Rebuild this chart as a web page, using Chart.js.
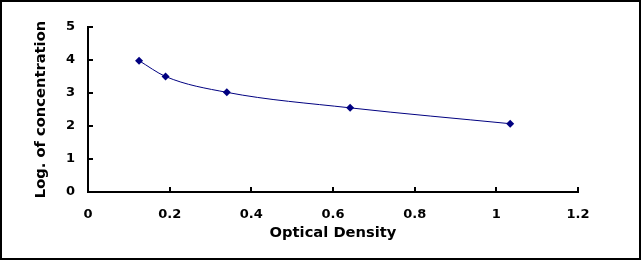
<!DOCTYPE html>
<html>
<head>
<meta charset="utf-8">
<script src="https://cdn.jsdelivr.net/npm/chart.js@4"></script>
<style>
  html, body { margin: 0; padding: 0; background: #fff; }
  #wrap { position: relative; width: 642px; height: 262px; }
  #frame { position: absolute; left: 0; top: 0; width: 641px; height: 260px; box-sizing: border-box; border: 2px solid #000; }
  #chart { position: absolute; left: 0; top: 0; }
</style>
</head>
<body>
<div id="wrap">
  <div id="frame"></div>
  <canvas id="chart" width="642" height="262"></canvas>
</div>
<script>
// 표준곡선 데이터
const opticalDensity = [0.125, 0.19, 0.34, 0.642, 1.034];
const logConcentration = [3.98, 3.5, 3.02, 2.55, 2.07];

const xTitle = "Optical Density";
const yTitle = "Log. of concentration";

const navy = "#000080";
const tickFont = { family: "'DejaVu Sans', sans-serif", size: 13, weight: "bold" };
const titleFont = { family: "'DejaVu Sans', sans-serif", size: 14.7, weight: "bold" };

const points = opticalDensity.map((x, i) => ({ x: x, y: logConcentration[i] }));

new Chart(document.getElementById("chart").getContext("2d"), {
  type: "scatter",
  data: {
    datasets: [
      {
        data: points,
        showLine: true,
        borderColor: navy,
        borderWidth: 1,
        backgroundColor: navy,
        pointStyle: "rectRot",
        pointRadius: 4,
        pointBorderWidth: 0,
        tension: 0.4,
        cubicInterpolationMode: "monotone",
      },
    ],
  },
  options: {
    responsive: false,
    animation: false,
    layout: { padding: { left: 0, top: 27, right: 64, bottom: 0 } },
    plugins: { legend: { display: false }, tooltip: { enabled: false } },
    scales: {
      x: {
        type: "linear",
        min: 0,
        max: 1.2,
        afterFit: (s) => { s.height = 70; },
        ticks: { stepSize: 0.2, color: "#000", font: tickFont, padding: 20, maxRotation: 0,
          callback: (v) => Math.round(v * 10) / 10 },
        grid: { drawOnChartArea: false, color: "#000", lineWidth: 2, tickLength: -5 },
        border: { display: true, color: "#000", width: 2 },
        title: { display: true, text: xTitle, color: "#000", font: titleFont, padding: { top: 0, bottom: 20 } },
      },
      y: {
        min: 0,
        max: 5,
        afterFit: (s) => { s.width = 88; },
        ticks: { stepSize: 1, color: "#000", font: tickFont, padding: 18 },
        grid: { drawOnChartArea: false, color: "#000", lineWidth: 2, tickLength: -5 },
        border: { display: true, color: "#000", width: 2 },
        title: { display: true, text: yTitle, color: "#000", font: titleFont, padding: { top: 32, bottom: 0 } },
      },
    },
  },
});
</script>
</body>
</html>
